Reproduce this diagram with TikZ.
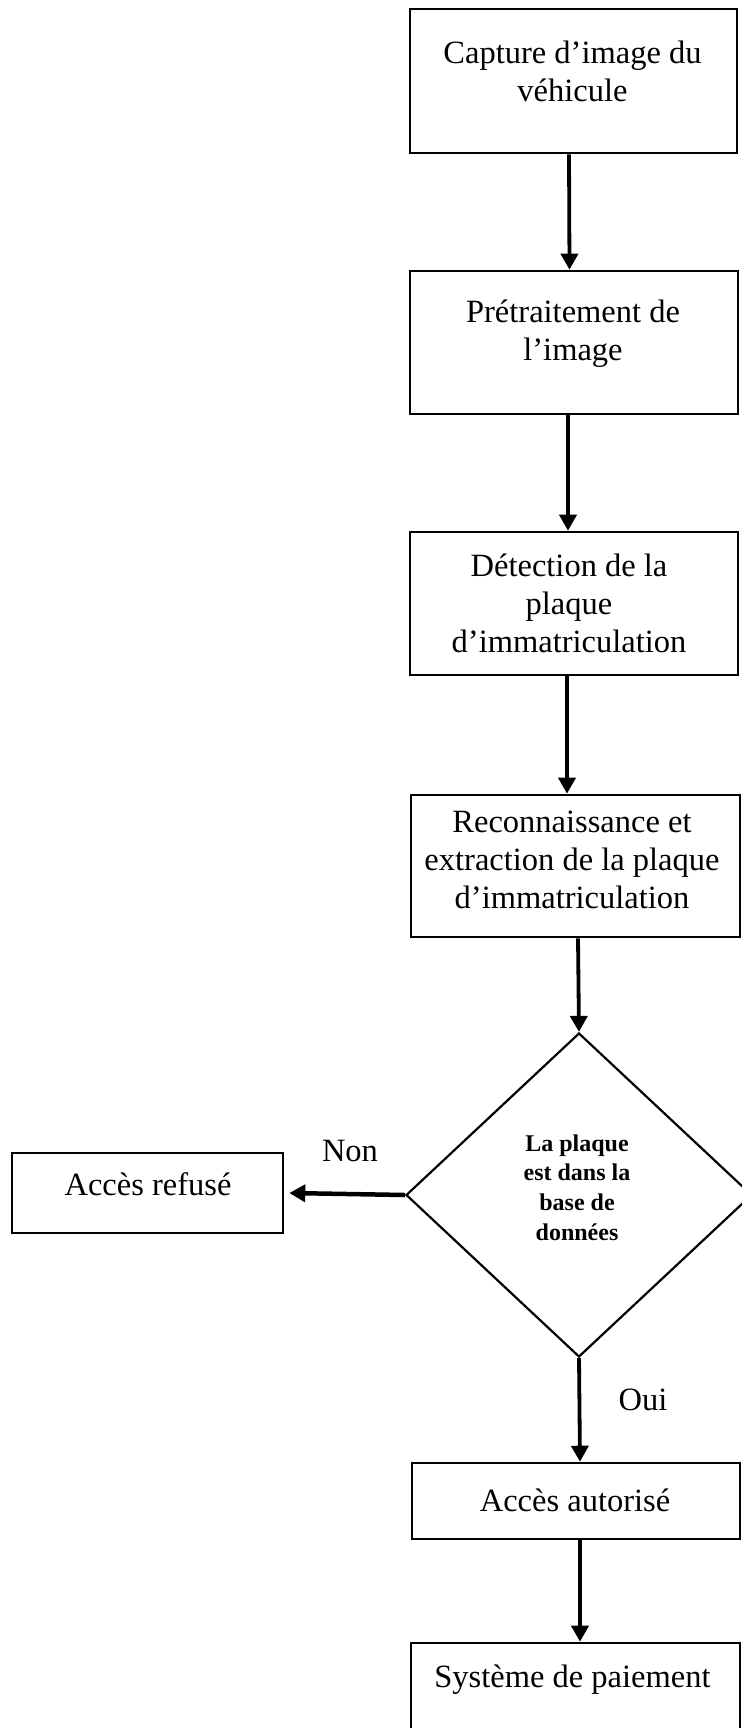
\documentclass[tikz,border=0pt]{standalone}
\usepackage{fontspec}
\setmainfont{Liberation Serif}
\usetikzlibrary{shapes.geometric,arrows.meta}
\begin{document}
\begin{tikzpicture}[x=1pt,y=-1pt,
  box/.style={draw,line width=2.6pt,inner sep=0pt,rectangle},
  lbl/.style={font=\fontsize{32.5}{38}\selectfont,align=center,inner sep=0pt},
  qlbl/.style={font=\fontsize{24}{29.7}\selectfont\bfseries,align=center,inner sep=0pt},
  arr/.style={line width=3.8pt,-{Triangle[length=16pt,width=17pt]}},
]
\useasboundingbox (0,0) rectangle (741,1728);

% process boxes
\node[box,minimum width=327pt,minimum height=144pt] (b1) at (573.5,81) {};
\node[box,minimum width=328pt,minimum height=143pt] (b2) at (574,342.5) {};
\node[box,minimum width=328pt,minimum height=143pt] (b3) at (574,603.5) {};
\node[box,minimum width=329pt,minimum height=142pt] (b4) at (575.5,866) {};
\node[draw,diamond,line width=2.2pt,minimum width=346pt,minimum height=324pt,inner sep=0pt] (dia) at (579,1195) {};
\node[box,minimum width=271pt,minimum height=80pt] (refuse) at (147.5,1193) {};
\node[box,minimum width=328pt,minimum height=76pt] (b5) at (576,1501) {};
\node[box,minimum width=329pt,minimum height=117pt] (b6) at (575.5,1701.5) {};

% texts
\node[lbl] (t1) at (572.5,71.5) {Capture d’image du\\véhicule};
\node[lbl] (t2) at (573,333.5) {Prétraitement de\\l’image};
\node[lbl] (t3) at (569,603) {Détection de la\\plaque\\d’immatriculation};
\node[lbl] (t4) at (572,860) {Reconnaissance et\\extraction de la plaque\\d’immatriculation};
\node[qlbl] (tq) at (577,1187.5) {La plaque\\est dans la\\base de\\données};
\node[lbl] (tr) at (148,1184) {Accès refusé};
\node[lbl] (t5) at (575,1500) {Accès autorisé};
\node[lbl] (t6) at (572.5,1680) {Système de paiement};
\node[lbl] (non) at (350,1151) {Non};
\node[lbl] (oui) at (643,1400) {Oui};

% connectors
\draw[arr] ([xshift=-4.5pt]b1.south) -- ([xshift=-4.5pt]b2.north);
\draw[arr] ([xshift=-6pt]b2.south) -- ([xshift=-6pt]b3.north);
\draw[arr] ([xshift=-7pt]b3.south) -- ([xshift=-8.5pt]b4.north);
\draw[arr] ([xshift=2.5pt]b4.south) -- (dia.north);
\draw[arr,line width=4.5pt] (dia.west) -- ([xshift=5pt]refuse.east);
\draw[arr] (dia.south) -- ([xshift=4pt]b5.north);
\draw[arr] ([xshift=4pt]b5.south) -- ([xshift=4.5pt]b6.north);
\end{tikzpicture}
\end{document}
